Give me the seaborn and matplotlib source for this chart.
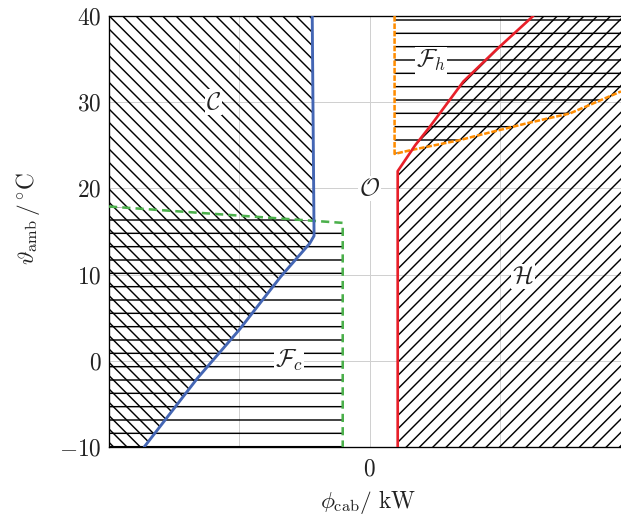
import numpy as np
import matplotlib
matplotlib.use("Agg")
import matplotlib.pyplot as plt
import seaborn as sns

# ---- data ----
# cooling limit (blue)
blue_x = [-2.2, -2.13, -2.3, -3.4, -5.0, -6.6, -8.65]
blue_y = [40.0, 14.5, 13.6, 9.8, 3.6, -2.0, -10.0]
# heating limit (red)
red_x = [1.08, 1.08, 1.75, 2.35, 3.6, 4.87, 6.28]
red_y = [-10.0, 22.0, 25.0, 27.3, 32.4, 36.1, 40.0]
# fan/cooling feasible (green dashed)
green_x = [-10.0, -1.03, -1.03]
green_y = [17.9, 16.0, -10.0]
# fan/heating feasible (orange dashed)
orange_x = [0.96, 0.96, 1.6, 3.46, 4.23, 6.03, 7.69, 8.59, 9.65]
orange_y = [40.0, 24.0, 24.45, 25.6, 26.2, 27.55, 28.7, 29.87, 31.25]

xlim = (-10.0, 9.65)
ylim = (-10.0, 40.0)
yticks = [-10, 0, 10, 20, 30, 40]
xticks = [-5, 0, 5]
xtick_labels = ["", "0", ""]

region_labels = [r"$\mathcal{C}$", r"$\mathcal{O}$", r"$\mathcal{F}_h$",
                 r"$\mathcal{F}_c$", r"$\mathcal{H}$"]
label_x = [-6.0, 0.0, 2.35, -3.1, 5.9]
label_y = [30.0, 20.0, 34.8, 0.0, 9.8]

# ---- style ----
sns.set_style("white")
plt.rcParams["mathtext.fontset"] = "cm"
plt.rcParams["font.family"] = ["DejaVu Serif", "DejaVu Sans"]
plt.rcParams["hatch.linewidth"] = 1.3

dpi = 80
fig = plt.figure(figsize=(621 / dpi, 526 / dpi), dpi=dpi)
ax = fig.add_axes([109 / 621, 79 / 526, 512 / 621, 431 / 526])

# regions
x0, x1 = xlim
y0, y1 = ylim
ax.fill([x0] + blue_x + [x0], [y1] + blue_y + [y0],
        facecolor="none", edgecolor="black", hatch="\\\\", lw=0, zorder=1)
ax.fill(green_x + [x0], green_y + [y0],
        facecolor="none", edgecolor="black", hatch="-", lw=0, zorder=1)
ax.fill(orange_x + [x1], orange_y + [y1],
        facecolor="none", edgecolor="black", hatch="-", lw=0, zorder=1)
ax.fill(red_x + [x1, x1], red_y + [y1, y0],
        facecolor="none", edgecolor="black", hatch="//", lw=0, zorder=1)

# boundaries
sns.lineplot(x=green_x, y=green_y, sort=False, estimator=None, ax=ax,
             color="#4bb04b", lw=2.3, linestyle=(0, (3.2, 2.0)), zorder=3)
sns.lineplot(x=orange_x, y=orange_y, sort=False, estimator=None, ax=ax,
             color="#ff8c00", lw=2.3, linestyle=(0, (2.2, 0.7)), zorder=3)
sns.lineplot(x=blue_x, y=blue_y, sort=False, estimator=None, ax=ax,
             color="#4466b4", lw=2.6, zorder=4)
sns.lineplot(x=red_x, y=red_y, sort=False, estimator=None, ax=ax,
             color="#e8202a", lw=2.4, zorder=4)

for t, lx, ly in zip(region_labels, label_x, label_y):
    ax.text(lx, ly, t, ha="center", va="center", fontsize=22, color="#222222",
            zorder=6, bbox=dict(facecolor="white", edgecolor="none", pad=1.0))

ax.set_xlim(*xlim)
ax.set_ylim(*ylim)
ax.set_xticks(xticks, labels=[f"${s}$" if s else "" for s in xtick_labels])
ax.set_yticks(yticks, labels=[f"${v}$" for v in yticks])
ax.tick_params(axis="both", length=0, labelsize=21, colors="#222222")
ax.tick_params(axis="x", pad=10)
ax.tick_params(axis="y", pad=7)

ax.grid(True, color="#d0d0d0", lw=0.9)
ax.set_axisbelow(True)
for s in ["left", "bottom", "top"]:
    ax.spines[s].set_visible(True)
    ax.spines[s].set_color("black")
    ax.spines[s].set_linewidth(1.2)
ax.spines["right"].set_visible(False)

ax.set_xlabel(r"$\phi_{\mathrm{cab}}/\ \mathrm{kW}$", fontsize=21, color="#222222")
ax.set_ylabel(r"$\vartheta_{\mathrm{amb}}\,/\,{}^{\circ}\mathrm{C}$", fontsize=21,
              color="#222222")
ax.xaxis.set_label_coords(0.506, -0.095)
ax.yaxis.set_label_coords(-0.13, 0.53)

fig.savefig("out.png", dpi=dpi)
